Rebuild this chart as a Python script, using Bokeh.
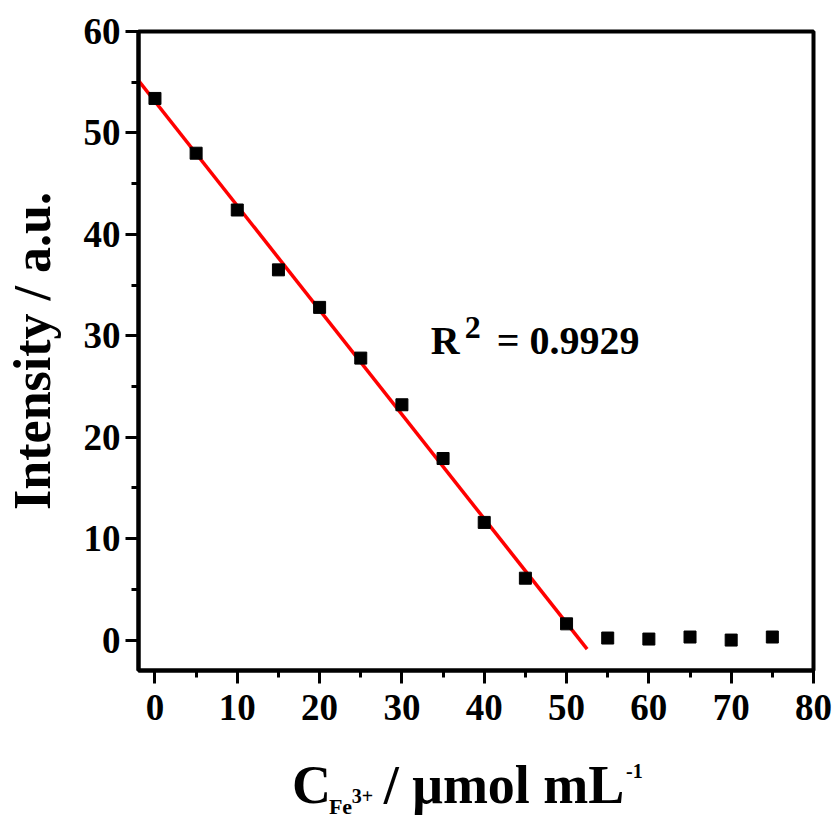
import numpy as np
from bokeh.plotting import figure
from bokeh.layouts import column
from bokeh.models import Range1d, Label, FixedTicker
from bokeh.embed import file_html
from bokeh.resources import INLINE

# ---- data ----
conc = [0, 5, 10, 15, 20, 25, 30, 35, 40, 45, 50, 55, 60, 65, 70, 75]
intensity = [53.4, 48.0, 42.4, 36.5, 32.8, 27.8, 23.2, 17.9, 11.6, 6.1, 1.6,
             0.2, 0.1, 0.3, 0.0, 0.3]
fit_limit = 50          # points used for the linear fit (x <= 50)
fit_x = [-2, 52.5]      # extent of the fitted line
r2_text = "= 0.9929"
x_ticks = [0, 10, 20, 30, 40, 50, 60, 70, 80]
y_ticks = [0, 10, 20, 30, 40, 50, 60]

FONT = "Liberation Serif"
W = 839
BL, BR, BT, BB = 136, 26, 31, 70
H1 = BT + 639 + BB
H2 = 820 - H1

p = figure(width=W, height=H1,
           x_range=Range1d(-2, 80), y_range=Range1d(-3, 60),
           output_backend="svg", toolbar_location=None,
           min_border_left=BL, min_border_top=BT,
           min_border_right=BR, min_border_bottom=BB,
           background_fill_color="white", border_fill_color="white")
p.grid.visible = False
p.outline_line_color = "black"
p.outline_line_width = 4

# linear fit
xs = np.array([c for c in conc if c <= fit_limit], dtype=float)
ys = np.array([v for c, v in zip(conc, intensity) if c <= fit_limit])
slope, intercept = np.polyfit(xs, ys, 1)
fx = np.array(fit_x, dtype=float)
p.line(fx, slope * fx + intercept, line_color="#ff0000", line_width=3.5)

p.scatter(conc, intensity, marker="square", size=12,
          fill_color="black", line_color="black")

for ax in (p.xaxis[0], p.yaxis[0]):
    ax.axis_line_width = 4
    ax.axis_line_color = "black"
    ax.major_tick_line_width = 3
    ax.minor_tick_line_width = 3
    ax.major_tick_out = 13
    ax.major_tick_in = 0
    ax.minor_tick_out = 7
    ax.minor_tick_in = 0
    ax.major_label_text_font = FONT
    ax.major_label_text_font_style = "bold"
    ax.major_label_text_font_size = "37px"
    ax.major_label_text_color = "black"

p.xaxis.ticker = FixedTicker(ticks=x_ticks, minor_ticks=list(range(0, 81, 5)))
p.yaxis.ticker = FixedTicker(ticks=y_ticks, minor_ticks=list(range(0, 61, 5)))
p.xaxis.major_label_standoff = 11
p.yaxis.major_label_standoff = 5

p.yaxis.axis_label = "Intensity / a.u."
p.yaxis.axis_label_text_font = FONT
p.yaxis.axis_label_text_font_style = "bold"
p.yaxis.axis_label_text_font_size = "52px"
p.yaxis.axis_label_text_color = "black"
p.yaxis.axis_label_standoff = 20

# R^2 annotation
r_x, r_y = 33.5, 28.1
def rlabel(txt, dx, dy, size):
    p.add_layout(Label(x=r_x, y=r_y, x_offset=dx, y_offset=dy, text=txt,
                       text_font=FONT, text_font_style="bold",
                       text_font_size=size, text_baseline="alphabetic",
                       text_color="black"))
rlabel("R", 0, 15, "40px")
rlabel("2", 34, 28, "32px")
rlabel(r2_text, 66, 15, "40px")

# x-axis title drawn in a strip below the plot (sub/superscripts as pieces)
p2 = figure(width=W, height=H2, x_range=Range1d(BL, W - BR),
            y_range=Range1d(0, H2),
            output_backend="svg", toolbar_location=None,
            x_axis_location=None, y_axis_location=None,
            min_border_left=BL, min_border_right=BR,
            min_border_top=0, min_border_bottom=0,
            background_fill_color="white", border_fill_color="white")
p2.grid.visible = False
p2.outline_line_color = None

def piece(txt, px, base, size):
    s = float(size[:-2])
    p2.add_layout(Label(x=px, y=820 - base + 0.38 * s, text=txt, text_font=FONT,
                        text_font_style="bold", text_font_size=size,
                        text_baseline="alphabetic", text_color="black"))

piece("C", 290, 805, "54px")
piece("Fe", 327, 814, "22px")
piece("3+", 350, 803, "20px")
piece("/ μmol mL", 382, 805, "54px")
piece("-1", 625, 778, "20px")

open("out.html", "w").write(file_html(column(p, p2), INLINE))
